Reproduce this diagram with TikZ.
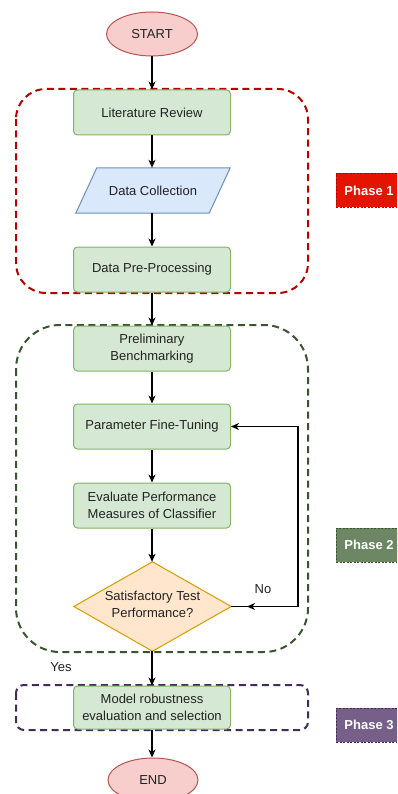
\documentclass[tikz,border=0pt]{standalone}
\usepackage{fontspec}
\setmainfont{Liberation Sans}
\usetikzlibrary{arrows.meta,shapes.geometric}

\definecolor{boxfill}{HTML}{D5E8D4}
\definecolor{boxline}{HTML}{82B366}
\definecolor{datafill}{HTML}{DAE8FC}
\definecolor{dataline}{HTML}{6C8EBF}
\definecolor{decfill}{HTML}{FFE6CC}
\definecolor{decline}{HTML}{D79B00}
\definecolor{termfill}{HTML}{F8CECC}
\definecolor{termline}{HTML}{B85450}
\definecolor{redfill}{HTML}{E51400}
\definecolor{redline}{HTML}{B20000}
\definecolor{greenfill}{HTML}{6D8764}
\definecolor{greenline}{HTML}{3A5431}
\definecolor{purplefill}{HTML}{76608A}
\definecolor{purpleline}{HTML}{432D57}
\definecolor{txt}{HTML}{222222}

\tikzset{
  base/.style={font=\fontsize{13}{16.5}\selectfont, text=txt, align=center, inner sep=0pt},
  procbox/.style={base, draw=boxline, fill=boxfill, line width=1pt, rounded corners=4pt,
    minimum width=157pt, minimum height=45pt},
  terminal/.style={base, ellipse, draw=termline, fill=termfill, line width=1pt,
    minimum width=91pt, minimum height=44pt},
  textonly/.style={base},
  flow/.style={line width=1.1pt, -{Stealth[length=8pt,width=7pt,inset=2.5pt]}},
  plainline/.style={line width=1.1pt},
  phasebox/.style={line width=2pt, dash pattern=on 7pt off 4.5pt},
  phasetag/.style={base, font=\fontsize{13}{16}\selectfont\bfseries, text=white,
    minimum width=66pt, minimum height=34pt, line width=0.8pt, dash pattern=on 2pt off 1.5pt},
}

\begin{document}
\begin{tikzpicture}[x=1pt,y=-1pt]
\clip (0,0) rectangle (397,794);
\fill[white] (0,0) rectangle (397,794);

% phase frames
\draw[phasebox, redline, rounded corners=30pt] (16,89) rectangle (308,293);
\draw[phasebox, greenline, rounded corners=44pt] (16,325) rectangle (308,652);
\draw[phasebox, purpleline, rounded corners=8pt] (16,685) rectangle (308,730);

% steps
\node[terminal] (start) at (152,34) {START};
\node[procbox] (lr) at (152,112.5) {Literature Review};

\node[textonly, minimum width=133pt, minimum height=45pt] (dc) at (153,190.5) {};
\filldraw[draw=dataline, fill=datafill, line width=1pt]
  ([xshift=10.5pt]dc.north west) -- ([xshift=10.5pt]dc.north east)
  -- ([xshift=-10.5pt]dc.south east) -- ([xshift=-10.5pt]dc.south west) -- cycle;
\node[textonly] at (dc.center) {Data Collection};

\node[procbox] (dpp) at (152,269.5) {Data Pre-Processing};
\node[procbox] (pb) at (152,348.5) {Preliminary\\Benchmarking};
\node[procbox] (pft) at (152,426.5) {Parameter Fine-Tuning};
\node[procbox] (ev) at (152,505.5) {Evaluate Performance\\Measures of Classifier};

\node[textonly, minimum width=157pt, minimum height=89pt] (dec) at (152.5,606.5) {};
\filldraw[draw=decline, fill=decfill, line width=1pt]
  (dec.north) -- (dec.east) -- (dec.south) -- (dec.west) -- cycle;
\node[textonly] at ([yshift=2pt]dec.center) {Satisfactory Test\\Performance?};

\node[procbox, minimum height=43pt] (mr) at (152,707.5) {Model robustness\\evaluation and selection};
\node[terminal, minimum width=90pt] (end) at (153,780) {END};

% phase tags
\node[phasetag, fill=redfill, draw=redline] (p1) at (369,190.5) {Phase 1};
\node[phasetag, fill=greenfill, draw=greenline] (p2) at (369,545) {Phase 2};
\node[phasetag, fill=purplefill, draw=purpleline] (p3) at (369,725) {Phase 3};

% connectors
\draw[flow] (start) -- (lr);
\draw[flow] (lr.south) -- (lr.south |- dc.north);
\draw[flow] (dc.south -| dpp.north) -- (dpp.north);
\draw[flow] (dpp) -- (pb);
\draw[flow] (pb) -- (pft);
\draw[flow] (pft) -- (ev);
\draw[flow] (ev.south) -- (ev.south |- dec.north);
\draw[flow] (dec.south -| mr.north) -- (mr.north);
\draw[flow] (mr.south) -- (mr.south |- end.north);

% loop back when the test fails
\coordinate (fbr) at (298,606.5);
\coordinate (fbtip) at (247,606.5);
\draw[plainline] (dec.east) -- (fbr);
\draw[flow] (fbr) |- (pft.east);
\draw[flow] (fbr) -- (fbtip);

\node[textonly] (no) at (263,589) {No};
\node[textonly] (yes) at (61,667) {Yes};
\end{tikzpicture}
\end{document}
